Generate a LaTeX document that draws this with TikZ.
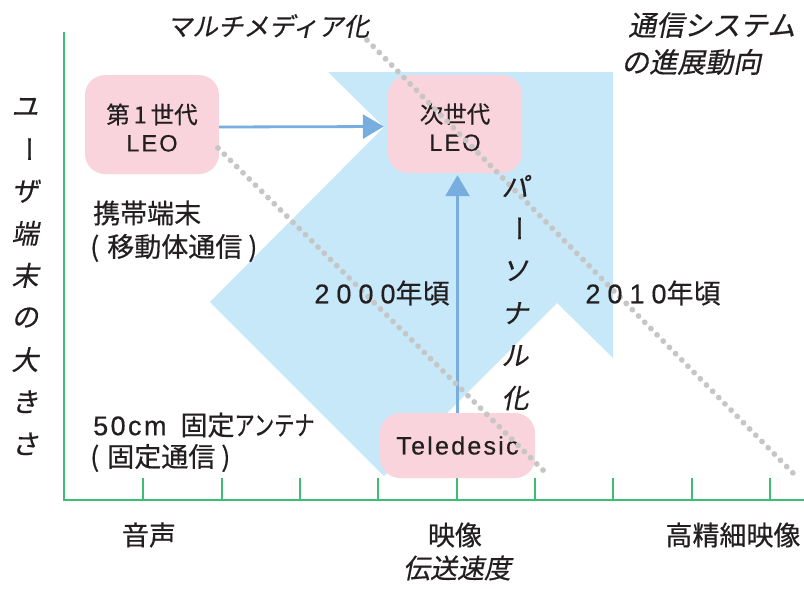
\documentclass[tikz,border=0pt]{standalone}
\usepackage{fontspec}
\usepackage{graphicx}
\usetikzlibrary{arrows.meta}
\setmainfont{Noto Sans CJK JP}
\newfontfamily\jpn[FakeBold=0.5]{Noto Sans CJK JP}
\newfontfamily\jpi[FakeSlant=0.2,FakeBold=0.5]{Noto Sans CJK JP}
\newfontfamily\latf[LetterSpace=9,FakeBold=0.5]{Liberation Sans}
\newfontfamily\digf[LetterSpace=26,FakeBold=0.5]{Liberation Sans}
\definecolor{bluef}{HTML}{C6E8F8}
\definecolor{pinkf}{HTML}{F9D4DC}
\definecolor{arrb}{HTML}{78AEDF}
\definecolor{dotg}{HTML}{C6C6C6}
\definecolor{axg}{HTML}{3DBC74}
\definecolor{txt}{HTML}{231F20}
\begin{document}
\begin{tikzpicture}[x=1pt,y=-1pt,
  every node/.style={inner sep=0pt, text=txt},
  pinkbox/.style={fill=pinkf, rounded corners=20pt, align=center},
  arr/.style={draw=arrb, line width=2.8pt, -{Triangle[length=21pt,width=24pt]}},
  dots/.style={draw=dotg, line width=5.8pt, line cap=round, dash pattern=on 0pt off 8.8pt},
  axis/.style={draw=axg, line width=1.6pt},
  lab/.style={font=\jpn\fontsize{27}{30}\selectfont},
  ilab/.style={font=\jpi\fontsize{27}{30}\selectfont},
]
\useasboundingbox (0,0) rectangle (804,589);
% big light-blue chevron
\fill[bluef] (328,72) -- (613,72) -- (613,358) -- (557,303) -- (384,476) -- (210,302) -- (384,127) -- cycle;
% axes
\draw[axis] (64,32) -- (64,500) -- (804,500);
\foreach \x in {143,222,300,378,457,535,613,692,770}
  \draw[axis] (\x,478) -- (\x,500);
% boxes
\node[pinkbox, minimum width=134pt, minimum height=99pt, font=\jpn\fontsize{23.5}{28}\selectfont] (leo1) at (152,124.5) {\rule{0pt}{26pt}第\,1\,世代\\{\latf LEO}};
\node[pinkbox, minimum width=134pt, minimum height=98pt, font=\jpn\fontsize{23.5}{28}\selectfont] (leo2) at (455,124) {\rule{0pt}{26pt}次世代\\{\latf LEO}};
\node[pinkbox, minimum width=155pt, minimum height=65pt, font=\latf\fontsize{25}{28}\selectfont] (tele) at (457.5,445.5) {Teledesic};
% arrows
\draw[arr, shorten >=4pt] ([yshift=-2.5pt]leo1.east) -- ([yshift=-2.5pt]leo2.west);
\draw[arr, shorten >=2pt] (tele.north) -- (tele.north |- leo2.south);
% dotted trend lines
\coordinate (m1) at (367,40);
\coordinate (m2) at (793,473);
\coordinate (p1) at (218,148);
\coordinate (p2) at (548,475);
\draw[dots] (m1) -- (m2);
\draw[dots] (p1) -- (p2);
% titles
\node[ilab, font=\jpi\fontsize{25.5}{28}\selectfont] (t1) at (268,26) {マルチメディア化};
\node[ilab, anchor=west, font=\jpi\fontsize{28}{30}\selectfont] (t2a) at (628,25) {通信システム};
\node[ilab, anchor=west, font=\jpi\fontsize{28}{30}\selectfont] (t2b) at (621,62) {の進展動向};
% vertical labels
\foreach \c [count=\i from 0] in {ユ,{\rotatebox[origin=c]{-90}{\jpn ー}},ザ,端,末,の,大,き,さ}
  \node[ilab] (u\i) at (25,{107+42.1*\i}) {\c};
\foreach \c [count=\i from 0] in {パ,{\rotatebox[origin=c]{-90}{\jpn ー}},ソ,ナ,ル,化}
  \node[ilab] (v\i) at (515,{186+42.4*\i}) {\c};
% left labels
\node[lab, anchor=west] (k1) at (93,213) {携帯端末};
\node[lab, anchor=west] (k2) at (90,248) {(\hspace{8pt}移動体通信\hspace{6pt})};
\node[lab, anchor=west] (f1) at (93,425) {{\latf 50cm}\hspace{14pt}固定\scalebox{0.75}[1]{アンテナ}};
\node[lab, anchor=west] (f2) at (90,458) {(\hspace{8pt}固定通信\hspace{6pt})};
% years
\node[lab] (y1) at (382,293) {{\digf 2000}年頃};
\node[lab] (y2) at (653,293) {{\digf 2010}年頃};
% x axis labels
\node[lab] (a1) at (149,535) {音声};
\node[lab] (a2) at (455,535) {映像};
\node[lab] (a3) at (733,535) {高精細映像};
\node[ilab] (a4) at (457,568) {伝送速度};
\end{tikzpicture}
\end{document}
